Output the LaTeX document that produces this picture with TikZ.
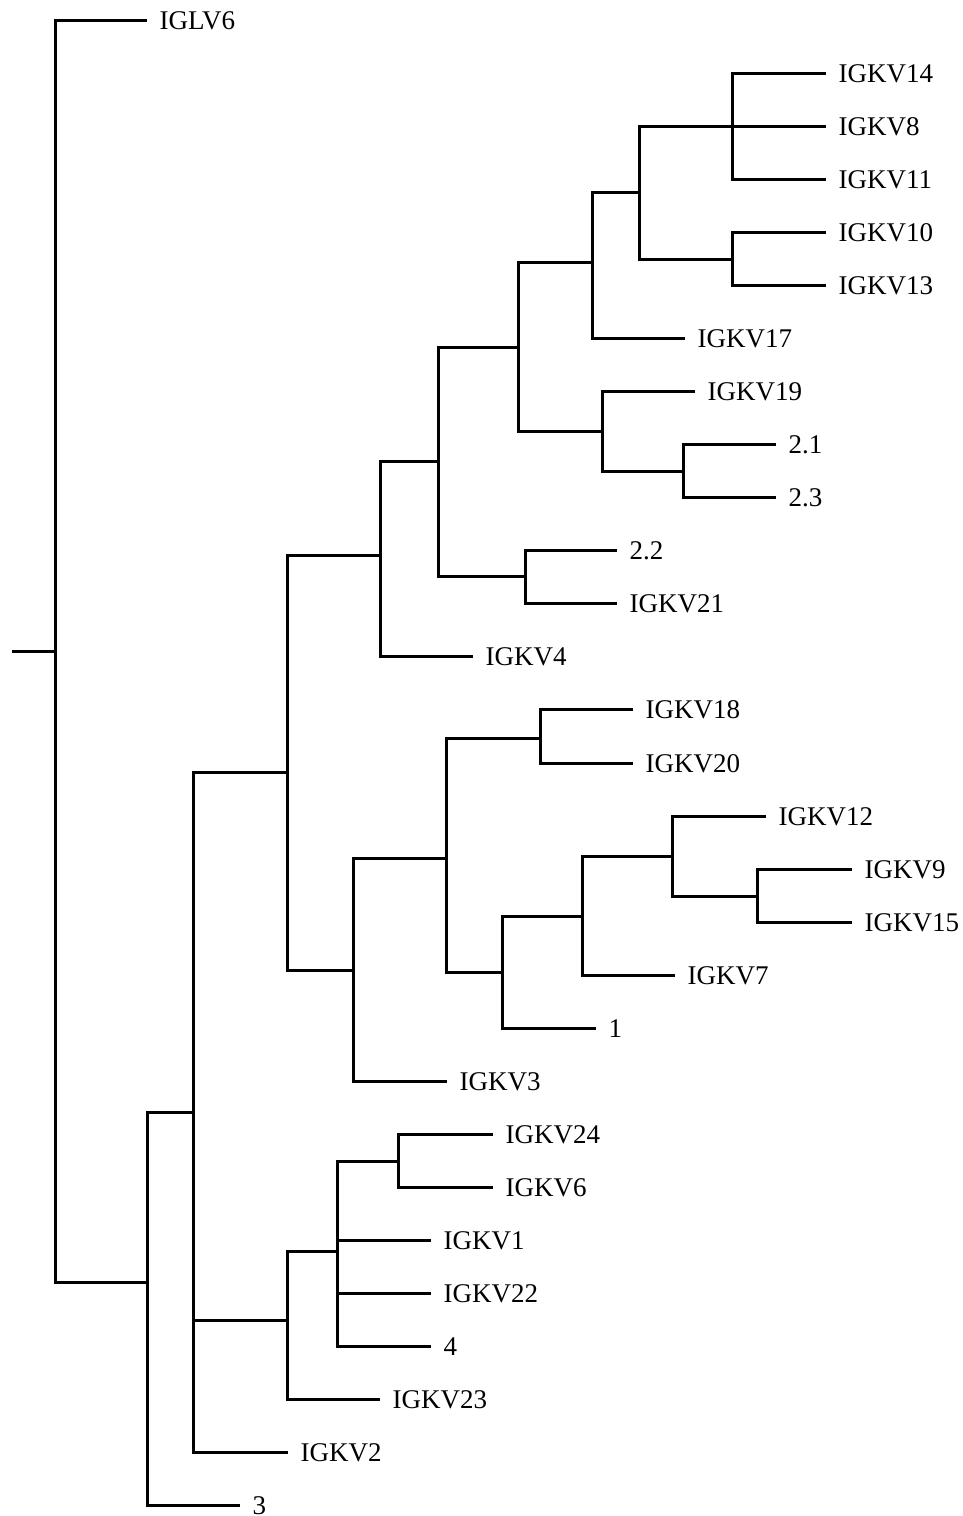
\documentclass[tikz,border=0pt]{standalone}
\usepackage{fontspec}
\setmainfont{Liberation Serif}
\tikzset{
  branch/.style={line width=3pt, line join=miter, line cap=butt},
  leaf/.style={anchor=west, inner xsep=12.5pt, inner ysep=0pt, text height=18pt, text depth=0pt, font=\fontsize{27}{32}\selectfont}
}
\begin{document}
\begin{tikzpicture}[x=1pt,y=-1pt]
\useasboundingbox (0,0) rectangle (963,1516);
% internal nodes
\coordinate (r0) at (12,651);
\coordinate (r) at (55,651);
\coordinate (n1) at (147,1282);
\coordinate (n2) at (193,1112);
\coordinate (n3) at (287,1320);
\coordinate (n5) at (337,1251);
\coordinate (n6) at (398,1161);
\coordinate (n4) at (287,772);
\coordinate (n7) at (380,555);
\coordinate (n9) at (438,461);
\coordinate (n11) at (525,576);
\coordinate (n10) at (518,347);
\coordinate (n13) at (602,431);
\coordinate (n14) at (683,471);
\coordinate (n12) at (592,262);
\coordinate (n15) at (639,192);
\coordinate (n16) at (732,126);
\coordinate (n17) at (732,259);
\coordinate (n8) at (353,970);
\coordinate (n18) at (446,858);
\coordinate (n19) at (540,738);
\coordinate (n20) at (502,972);
\coordinate (n21) at (582,916);
\coordinate (n22) at (672,856);
\coordinate (n23) at (757,896);
% leaves
\node[leaf] (IGLV6) at (147,20) {IGLV6};
\node[leaf] (IGKV14) at (826,73.1) {IGKV14};
\node[leaf] (IGKV8) at (826,126.1) {IGKV8};
\node[leaf] (IGKV11) at (826,179.2) {IGKV11};
\node[leaf] (IGKV10) at (826,232.3) {IGKV10};
\node[leaf] (IGKV13) at (826,285.4) {IGKV13};
\node[leaf] (IGKV17) at (685,338.4) {IGKV17};
\node[leaf] (IGKV19) at (695,391.5) {IGKV19};
\node[leaf] (l21) at (776,444.6) {2.1};
\node[leaf] (l23) at (776,497.6) {2.3};
\node[leaf] (l22) at (617,550.7) {2.2};
\node[leaf] (IGKV21) at (617,603.8) {IGKV21};
\node[leaf] (IGKV4) at (473,656.8) {IGKV4};
\node[leaf] (IGKV18) at (633,709.9) {IGKV18};
\node[leaf] (IGKV20) at (633,763) {IGKV20};
\node[leaf] (IGKV12) at (766,816) {IGKV12};
\node[leaf] (IGKV9) at (852,869.1) {IGKV9};
\node[leaf] (IGKV15) at (852,922.2) {IGKV15};
\node[leaf] (IGKV7) at (675,975.3) {IGKV7};
\node[leaf] (l1) at (596,1028.3) {1};
\node[leaf] (IGKV3) at (447,1081.4) {IGKV3};
\node[leaf] (IGKV24) at (493,1134.5) {IGKV24};
\node[leaf] (IGKV6) at (493,1187.5) {IGKV6};
\node[leaf] (IGKV1) at (431,1240.6) {IGKV1};
\node[leaf] (IGKV22) at (431,1293.7) {IGKV22};
\node[leaf] (l4) at (431,1346.8) {4};
\node[leaf] (IGKV23) at (380,1399.8) {IGKV23};
\node[leaf] (IGKV2) at (288,1452.9) {IGKV2};
\node[leaf] (l3) at (240,1505) {3};
% connectors
\draw[branch] (r0) -- (r);
\draw[branch] (r) |- (IGLV6.west);
\draw[branch] (r) |- (n1);
\draw[branch] (n1) |- (l3.west);
\draw[branch] (n1) |- (n2);
\draw[branch] (n2) |- (IGKV2.west);
\draw[branch] (n2) |- (n3);
\draw[branch] (n2) |- (n4);
\draw[branch] (n3) |- (IGKV23.west);
\draw[branch] (n3) |- (n5);
\draw[branch] (n5) |- (n6);
\draw[branch] (n5) |- (IGKV1.west);
\draw[branch] (n5) |- (IGKV22.west);
\draw[branch] (n5) |- (l4.west);
\draw[branch] (n6) |- (IGKV24.west);
\draw[branch] (n6) |- (IGKV6.west);
\draw[branch] (n4) |- (n7);
\draw[branch] (n4) |- (n8);
\draw[branch] (n7) |- (n9);
\draw[branch] (n7) |- (IGKV4.west);
\draw[branch] (n9) |- (n10);
\draw[branch] (n9) |- (n11);
\draw[branch] (n11) |- (l22.west);
\draw[branch] (n11) |- (IGKV21.west);
\draw[branch] (n10) |- (n12);
\draw[branch] (n10) |- (n13);
\draw[branch] (n13) |- (IGKV19.west);
\draw[branch] (n13) |- (n14);
\draw[branch] (n14) |- (l21.west);
\draw[branch] (n14) |- (l23.west);
\draw[branch] (n12) |- (n15);
\draw[branch] (n12) |- (IGKV17.west);
\draw[branch] (n15) |- (n16);
\draw[branch] (n15) |- (n17);
\draw[branch] (n16) |- (IGKV14.west);
\draw[branch] (n16) |- (IGKV8.west);
\draw[branch] (n16) |- (IGKV11.west);
\draw[branch] (n17) |- (IGKV10.west);
\draw[branch] (n17) |- (IGKV13.west);
\draw[branch] (n8) |- (n18);
\draw[branch] (n8) |- (IGKV3.west);
\draw[branch] (n18) |- (n19);
\draw[branch] (n18) |- (n20);
\draw[branch] (n19) |- (IGKV18.west);
\draw[branch] (n19) |- (IGKV20.west);
\draw[branch] (n20) |- (n21);
\draw[branch] (n20) |- (l1.west);
\draw[branch] (n21) |- (n22);
\draw[branch] (n21) |- (IGKV7.west);
\draw[branch] (n22) |- (IGKV12.west);
\draw[branch] (n22) |- (n23);
\draw[branch] (n23) |- (IGKV9.west);
\draw[branch] (n23) |- (IGKV15.west);
\end{tikzpicture}
\end{document}
